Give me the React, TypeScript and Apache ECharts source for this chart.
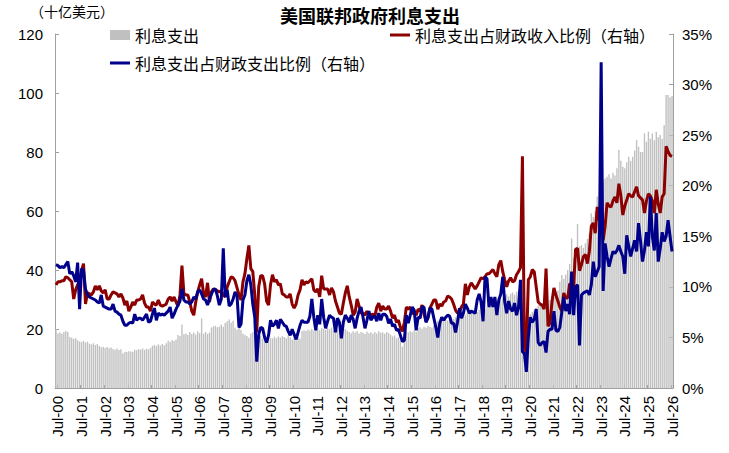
import { useEffect, useRef } from "react";
import * as echarts from "echarts";

// monthly, starting Jun-00 and ending Jul-26
const interestOutlays = [
  20.0, 18.5, 18.8, 18.4, 19.0, 19.3, 19.0, 17.3, 17.0, 16.6, 16.9, 16.2,
  15.8, 15.6, 16.0, 15.4, 15.7, 15.0, 14.8, 15.2, 14.6, 14.9, 14.2, 13.8,
  14.0, 13.6, 13.9, 13.5, 13.7, 13.2, 13.0, 13.4, 12.9, 13.1, 11.8, 12.3,
  12.2, 12.5, 12.4, 12.3, 13.0, 12.8, 13.2, 13.0, 13.4, 12.9, 13.3, 13.1,
  13.6, 14.3, 14.6, 14.2, 14.8, 14.4, 14.9, 14.5, 15.2, 16.0, 15.6, 16.3,
  15.9, 16.4, 18.0, 17.6, 21.5, 18.2, 18.5, 18.0, 19.0, 18.3, 18.8, 18.1,
  19.2, 18.6, 23.6, 18.4, 19.0, 18.3, 18.8, 20.5, 20.9, 21.1, 20.6, 20.8,
  21.5, 20.8, 22.0, 22.6, 23.2, 22.1, 22.8, 20.4, 19.8, 20.6, 19.7, 18.4,
  18.0, 17.6, 17.0, 18.5, 19.0, 18.2, 17.5, 16.2, 17.8, 16.8, 17.4, 16.5,
  17.2, 17.0, 16.8, 17.4, 16.9, 17.5, 17.1, 17.6, 17.3, 16.9, 17.8, 17.2,
  16.4, 17.0, 16.2, 17.1, 16.8, 19.2, 19.6, 19.3, 19.8, 19.5, 20.0, 19.4,
  19.9, 20.2, 19.6, 20.4, 20.0, 19.7, 20.3, 19.9, 20.5, 19.6, 19.0, 20.1,
  19.8, 18.2, 19.6, 20.0, 19.4, 19.0, 18.6, 19.2, 18.8, 19.3, 18.5, 19.0,
  18.7, 18.3, 19.1, 18.6, 18.9, 18.4, 19.0, 18.5, 19.2, 18.7, 18.8, 18.4,
  19.0, 18.6, 18.1, 17.5, 17.8, 16.9, 17.2, 16.0, 14.0, 18.2, 19.2, 18.8,
  19.3, 18.9, 19.5, 19.0, 20.3, 20.6, 20.1, 20.8, 20.4, 21.0, 20.7, 20.5,
  21.2, 22.4, 22.8, 22.5, 23.0, 22.7, 23.2, 22.9, 23.5, 23.9, 23.4, 24.0,
  23.7, 24.2, 24.6, 25.0, 24.7, 25.5, 25.2, 26.0, 25.6, 26.2, 25.8, 26.5,
  26.0, 27.0, 26.6, 27.4, 27.8, 28.4, 28.0, 28.9, 29.3, 29.0, 29.8, 30.6,
  31.2, 31.8, 31.0, 32.0, 32.4, 31.6, 32.6, 33.0, 32.2, 29.0, 26.5, 24.5,
  24.0, 25.0, 25.8, 26.5, 27.2, 28.0, 28.5, 27.6, 28.8, 29.4, 28.6, 29.8,
  30.0, 30.8, 31.5, 33.0, 36.0, 38.3, 37.0, 38.5, 40.0, 42.0, 50.7, 44.0,
  46.0, 55.6, 48.0, 48.5, 47.5, 49.0, 50.5, 52.4, 59.2, 58.0, 60.0, 64.9,
  62.0, 70.6, 70.0, 71.0, 71.6, 72.5, 71.0, 73.0, 72.0, 74.5, 80.7, 77.0,
  75.0, 74.5, 76.5, 78.4, 77.0, 78.4, 80.5, 84.0, 81.8, 80.0, 80.0, 86.3,
  83.5, 86.9, 84.5, 86.3, 84.0, 86.9, 85.0, 85.8, 84.5, 89.1, 99.3, 99.3, 98.5, 99.0,
];

// % of federal revenue
const shareOfRevenue = [
  10.2, 10.5, 10.5, 10.6, 10.6, 11.0, 10.9, 10.7, 10.5, 8.8, 9.7, 10.2,
  10.6, 11.6, 12.3, 8.3, 9.4, 9.3, 9.2, 9.5, 10.1, 9.7, 10.1, 9.6,
  9.4, 9.7, 8.8, 8.8, 9.2, 9.5, 9.4, 9.3, 9.0, 9.3, 8.9, 8.2,
  8.6, 7.6, 8.0, 8.5, 8.2, 8.7, 8.7, 8.8, 9.2, 8.4, 8.0, 8.0,
  7.6, 8.5, 8.3, 8.2, 8.7, 8.2, 8.1, 8.2, 8.3, 8.8, 9.0, 8.6,
  9.0, 8.5, 8.1, 9.2, 12.1, 9.3, 9.2, 9.2, 8.5, 7.6, 7.2, 8.5,
  9.5, 10.2, 10.8, 9.3, 9.0, 10.4, 8.5, 9.5, 9.8, 9.7, 9.6, 9.5,
  9.6, 9.2, 9.0, 10.0, 10.5, 11.0, 10.9, 10.6, 9.9, 9.2, 8.7, 10.5,
  11.3, 12.8, 14.1, 11.8, 11.5, 9.2, 5.5, 10.0, 11.1, 11.1, 10.3, 8.6,
  8.2, 10.2, 11.2, 10.5, 10.7, 10.2, 10.3, 9.3, 9.2, 9.0, 9.0, 9.3,
  8.3, 7.9, 8.3, 9.2, 9.7, 10.7, 10.2, 10.5, 10.4, 10.6, 10.8, 9.7,
  9.5, 9.8, 9.0, 11.1, 9.8, 9.8, 9.8, 9.2, 9.9, 9.5, 8.6, 8.0,
  7.4, 7.3, 8.4, 9.4, 10.1, 9.0, 8.2, 7.2, 7.5, 8.8, 8.1, 7.4,
  7.4, 7.2, 7.6, 7.2, 7.2, 7.3, 7.1, 8.0, 8.4, 7.6, 8.1, 7.8,
  7.8, 8.1, 7.6, 6.9, 7.2, 6.5, 6.7, 6.0, 5.6, 6.5, 8.0, 7.8,
  8.0, 7.3, 7.6, 7.2, 7.8, 7.6, 8.2, 7.3, 6.6, 7.0, 7.9, 8.3,
  8.7, 8.7, 7.8, 8.3, 8.1, 8.5, 8.6, 9.1, 9.0, 8.8, 8.3, 7.7,
  7.4, 7.5, 8.0, 8.3, 10.3, 9.2, 10.0, 10.4, 10.1, 9.8, 10.1, 10.5,
  10.9, 10.8, 11.0, 11.3, 11.3, 11.5, 11.7, 11.3, 11.0, 12.2, 12.6, 11.5,
  10.7, 10.0, 10.6, 10.9, 10.5, 10.6, 11.2, 11.5, 11.9, 22.9, 4.1, 3.5,
  10.7, 11.0, 11.7, 11.5, 10.0, 8.5, 8.3, 8.2, 7.8, 11.8, 6.1, 6.4,
  8.5, 9.9, 9.2, 8.6, 8.0, 7.6, 9.4, 8.9, 8.9, 10.3, 10.2, 10.0,
  13.7, 13.8, 11.6, 12.2, 13.0, 13.2, 12.3, 13.5, 16.0, 16.3, 15.3, 17.9,
  16.6, 16.8, 14.6, 16.0, 18.3, 18.0, 17.9, 18.5, 18.9, 18.3, 20.2, 19.0,
  17.1, 18.0, 18.6, 19.2, 19.0, 18.9, 19.4, 19.9, 19.0, 18.8, 18.6, 17.3,
  18.5, 19.2, 19.0, 18.5, 17.3, 19.6, 18.2, 17.3, 18.9, 19.2, 23.9, 23.4, 23.0, 22.9,
];

// % of federal outlays
const shareOfOutlays = [
  12.2, 12.1, 11.9, 12.0, 11.9, 12.2, 12.5, 11.3, 11.5, 11.1, 10.5, 12.4,
  7.8, 11.8, 11.6, 9.8, 9.2, 9.0, 8.9, 8.8, 8.7, 8.5, 8.4, 9.2,
  8.1, 8.0, 7.9, 7.8, 7.8, 8.3, 7.6, 7.5, 7.3, 7.2, 6.6, 6.2,
  6.2, 6.4, 6.5, 6.4, 7.3, 6.7, 6.9, 6.9, 6.7, 7.0, 7.3, 6.5,
  6.6, 7.3, 7.9, 6.7, 7.4, 7.2, 7.3, 7.2, 7.4, 7.6, 8.0, 6.9,
  7.3, 7.8, 8.2, 8.6, 9.8, 8.7, 8.5, 8.5, 8.3, 8.5, 9.0, 8.8,
  9.5, 9.7, 9.3, 8.8, 8.7, 8.2, 8.8, 9.3, 9.7, 9.8, 9.1, 8.2,
  8.8, 13.8, 9.0, 9.7, 8.1, 8.3, 8.8, 9.5, 9.1, 6.0, 6.3, 8.7,
  9.2, 10.6, 11.2, 10.2, 8.3, 7.0, 2.6, 5.3, 6.0, 5.9, 5.0, 4.5,
  5.2, 6.7, 6.1, 6.3, 6.7, 5.9, 6.8, 6.5, 6.2, 6.1, 5.6, 5.2,
  5.8, 5.3, 4.8, 5.5, 6.2, 6.7, 6.5, 6.5, 6.5, 7.1, 8.8, 7.0,
  5.7, 7.2, 6.3, 8.8, 7.0, 5.9, 6.6, 7.2, 7.0, 6.9, 5.5, 6.9,
  6.5, 4.9, 6.5, 7.2, 6.9, 6.5, 7.2, 6.8, 5.9, 6.9, 7.6, 8.0,
  7.0, 5.9, 6.7, 7.6, 6.7, 7.0, 7.1, 6.6, 7.4, 6.7, 7.3, 7.3,
  7.1, 6.4, 6.8, 6.1, 6.3, 5.7, 5.8, 5.2, 4.6, 4.7, 7.2, 6.4,
  7.2, 8.0, 7.7, 5.7, 7.0, 6.9, 8.0, 8.0, 6.5, 6.9, 7.9, 7.8,
  6.9, 6.0, 5.0, 6.4, 7.0, 6.7, 7.0, 7.2, 7.1, 6.4, 6.4, 5.5,
  6.5, 7.9, 6.9, 7.4, 8.3, 7.9, 7.4, 7.6, 7.5, 7.4, 8.7, 9.3,
  8.5, 6.6, 11.0, 10.8, 8.0, 9.0, 8.0, 9.0, 7.2, 8.7, 9.3, 11.0,
  8.5, 7.4, 8.6, 7.8, 7.6, 8.4, 7.2, 8.0, 10.7, 3.6, 3.4, 1.6,
  5.0, 7.0, 6.5, 6.8, 7.8, 4.5, 4.2, 4.5, 4.6, 3.5, 5.6, 5.8,
  5.8, 7.6, 5.7, 5.6, 6.0, 7.5, 9.0, 7.6, 8.3, 7.3, 11.5, 7.2,
  10.0, 10.2, 4.2, 9.2, 9.4, 9.5, 9.6, 9.2, 10.2, 12.5, 11.0, 11.5,
  12.0, 32.2, 9.6, 14.3, 13.0, 12.0, 12.8, 13.5, 13.3, 13.6, 14.1, 13.5,
  13.0, 11.3, 15.1, 14.0, 13.0, 13.8, 14.6, 13.5, 16.3, 14.5, 12.5, 13.6,
  15.4, 14.0, 18.9, 15.0, 13.6, 17.3, 12.5, 13.8, 15.4, 14.5, 15.0, 16.6, 15.0, 13.5,
];

const monthNames = ["Jan", "Feb", "Mar", "Apr", "May", "Jun", "Jul", "Aug", "Sep", "Oct", "Nov", "Dec"];
const categories: string[] = interestOutlays.map((_, k) => {
  const m = 5 + k;
  const yy = (m / 12) | 0;
  return `${monthNames[m % 12]}-${String(yy).padStart(2, "0")}`;
});

const FONT = "'Liberation Sans', 'Noto Sans CJK SC', sans-serif";
const CJK = "'Noto Sans CJK SC', sans-serif";
const RED = "#8b0000";
const BLUE = "#00008b";
const isJul = (_: number, v: string) => v.startsWith("Jul");

export default function App() {
  const ref = useRef<HTMLDivElement>(null);

  useEffect(() => {
    if (!ref.current) return;
    const chart = echarts.init(ref.current, null, { renderer: "svg" });
    const legendText = { fontFamily: CJK, fontSize: 16, color: "#000" };
    chart.setOption({
      animation: false,
      backgroundColor: "#fff",
      grid: { left: 55, right: 56, top: 34, bottom: 65, containLabel: false },
      graphic: [
        { type: "text", left: 30, top: 4, style: { text: "（十亿美元）", font: `14px ${CJK}`, fill: "#000" } },
        { type: "text", left: 280, top: 6, style: { text: "美国联邦政府利息支出", font: `bold 18px ${CJK}`, fill: "#000" } },
      ],
      legend: [
        {
          left: 110, top: 27, padding: 0, itemWidth: 20, itemHeight: 10, icon: "rect",
          textStyle: legendText, data: ["利息支出"],
        },
        {
          left: 390, top: 27, padding: 0, itemWidth: 20, itemHeight: 3, icon: "rect",
          textStyle: legendText, data: ["利息支出占财政收入比例（右轴）"],
        },
        {
          left: 110, top: 55, padding: 0, itemWidth: 20, itemHeight: 3, icon: "rect",
          textStyle: legendText, data: ["利息支出占财政支出比例（右轴）"],
        },
      ],
      xAxis: {
        type: "category",
        data: categories,
        boundaryGap: true,
        axisLine: { lineStyle: { color: "#a0a0a0" } },
        axisTick: { show: true, inside: true, length: 3, interval: isJul, lineStyle: { color: "#909090" } },
        axisLabel: { interval: isJul, rotate: 90, fontFamily: FONT, fontSize: 15, color: "#000", margin: 8 },
      },
      yAxis: [
        {
          type: "value", min: 0, max: 120, interval: 20,
          splitLine: { show: false },
          axisLine: { show: true, lineStyle: { color: "#a0a0a0" } },
          axisTick: { show: true, inside: true, length: 4, lineStyle: { color: "#a0a0a0" } },
          axisLabel: { fontFamily: FONT, fontSize: 15, color: "#000", margin: 12 },
        },
        {
          type: "value", min: 0, max: 35, interval: 5, position: "right",
          splitLine: { show: false },
          axisLine: { show: true, lineStyle: { color: "#a0a0a0" } },
          axisTick: { show: true, inside: true, length: 4, lineStyle: { color: "#a0a0a0" } },
          axisLabel: { formatter: "{value}%", fontFamily: FONT, fontSize: 15, color: "#000", margin: 9 },
        },
      ],
      series: [
        {
          name: "利息支出", type: "bar", data: interestOutlays,
          itemStyle: { color: "#c0c0c0" }, barCategoryGap: "30%",
        },
        {
          name: "利息支出占财政收入比例（右轴）", type: "line", yAxisIndex: 1, data: shareOfRevenue,
          showSymbol: false, symbol: "none", lineStyle: { color: RED, width: 3 }, itemStyle: { color: RED },
        },
        {
          name: "利息支出占财政支出比例（右轴）", type: "line", yAxisIndex: 1, data: shareOfOutlays,
          showSymbol: false, symbol: "none", lineStyle: { color: BLUE, width: 3 }, itemStyle: { color: BLUE },
        },
      ],
    });
    return () => chart.dispose();
  }, []);

  return <div ref={ref} style={{ position: "fixed", left: 0, top: 0, width: 729, height: 453 }} />;
}
